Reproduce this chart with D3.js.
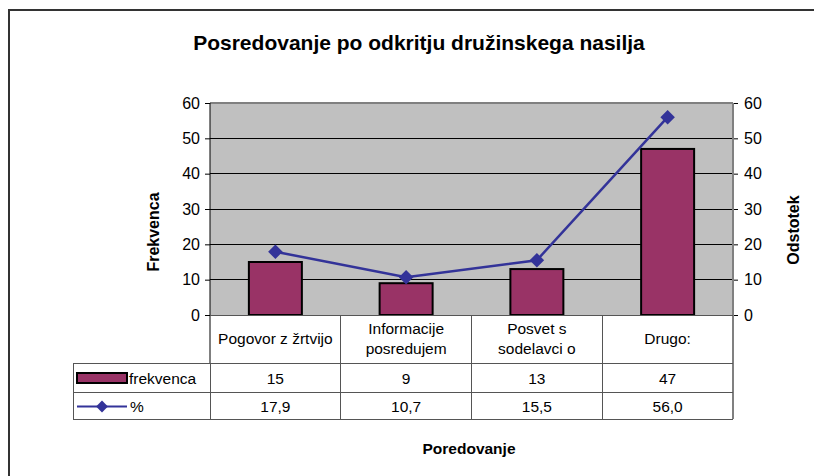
<!DOCTYPE html>
<html>
<head>
<meta charset="utf-8">
<script src="https://cdn.jsdelivr.net/npm/d3@7"></script>
<style>
  html, body { margin: 0; padding: 0; background: #fff; }
  svg { display: block; font-family: "Liberation Sans", Arial, sans-serif; }
</style>
</head>
<body>
<div id="chart"></div>
<script>
// Chart data
var categories = [['Pogovor z žrtvijo'], ['Informacije', 'posredujem'], ['Posvet s', 'sodelavci o'], ['Drugo:']];
var frekvenca = [15, 9, 13, 47];
var odstotek = [17.9, 10.7, 15.5, 56.0];
var leftTicks = [0, 10, 20, 30, 40, 50, 60];
var rightTicks = [0, 10, 20, 30, 40, 50, 60];

var width = 814, height = 476;
var plot = { left: 210, right: 733, top: 103, bottom: 315 };
var rowLabelBottom = 363, rowFreqBottom = 392, rowPctBottom = 419, tableLeft = 73;
var barColor = '#993366', lineColor = '#333399';
var txt = '15.5px';

var svg = d3.select('#chart').append('svg')
    .attr('width', width)
    .attr('height', height);

// Outer frame (runs off the bottom/right edge)
svg.append('rect')
    .attr('x', 9).attr('y', 10)
    .attr('width', 840).attr('height', 500)
    .attr('fill', 'none')
    .attr('stroke', '#333')
    .attr('stroke-width', 2);

// Title
svg.append('text')
    .attr('x', 419).attr('y', 50)
    .attr('text-anchor', 'middle')
    .attr('font-size', '21px')
    .attr('font-weight', 'bold')
    .text('Posredovanje po odkritju družinskega nasilja');

var x = d3.scaleBand()
    .domain(d3.range(categories.length))
    .range([plot.left, plot.right])
    .paddingInner(0)
    .paddingOuter(0);

var yL = d3.scaleLinear().domain([0, 60]).range([plot.bottom, plot.top]);
var yR = d3.scaleLinear().domain([0, 60]).range([plot.bottom, plot.top]);

// Plot background
svg.append('rect')
    .attr('x', plot.left).attr('y', plot.top)
    .attr('width', plot.right - plot.left).attr('height', plot.bottom - plot.top)
    .attr('fill', '#c0c0c0');

// Gridlines
svg.append('g').selectAll('line')
    .data(leftTicks.filter(function (d) { return d > 0 && d < 60; }))
    .join('line')
    .attr('x1', plot.left).attr('x2', plot.right)
    .attr('y1', function (d) { return yL(d); })
    .attr('y2', function (d) { return yL(d); })
    .attr('stroke', '#000')
    .attr('stroke-width', 1)
    .attr('shape-rendering', 'crispEdges');

// Plot border top (gray)
svg.append('line')
    .attr('x1', plot.left).attr('x2', plot.right)
    .attr('y1', plot.top).attr('y2', plot.top)
    .attr('stroke', '#808080').attr('stroke-width', 2);

// Bars
var barW = 53;
svg.append('g').selectAll('rect')
    .data(frekvenca)
    .join('rect')
    .attr('x', function (d, i) { return x(i) + x.bandwidth() / 2 - barW / 2; })
    .attr('y', function (d) { return yL(d); })
    .attr('width', barW)
    .attr('height', function (d) { return yL(0) - yL(d); })
    .attr('fill', barColor)
    .attr('stroke', '#000')
    .attr('stroke-width', 2);

// Left axis
var axL = svg.append('g')
    .attr('transform', 'translate(' + plot.left + ',0)')
    .call(d3.axisLeft(yL).tickValues(leftTicks).tickSize(5).tickPadding(5));
axL.select('.domain').remove();
axL.selectAll('.tick line').attr('stroke', '#000');
axL.selectAll('text').attr('font-size', '16px').attr('fill', '#000')
    .attr('font-family', '"Liberation Sans", Arial, sans-serif');
svg.append('line')
    .attr('x1', plot.left).attr('x2', plot.left)
    .attr('y1', plot.top).attr('y2', rowLabelBottom)
    .attr('stroke', '#000').attr('stroke-width', 1);

// Right axis
var axR = svg.append('g')
    .attr('transform', 'translate(' + plot.right + ',0)')
    .call(d3.axisRight(yR).tickValues(rightTicks).tickSize(5).tickPadding(6));
axR.select('.domain').remove();
axR.selectAll('.tick line').attr('stroke', '#000');
axR.selectAll('text').attr('font-size', '16px').attr('fill', '#000')
    .attr('font-family', '"Liberation Sans", Arial, sans-serif');
svg.append('line')
    .attr('x1', plot.right).attr('x2', plot.right)
    .attr('y1', plot.top).attr('y2', rowPctBottom)
    .attr('stroke', '#808080').attr('stroke-width', 2);

// Line series
var line = d3.line()
    .x(function (d, i) { return x(i) + x.bandwidth() / 2; })
    .y(function (d) { return yR(d); });
svg.append('path')
    .datum(odstotek)
    .attr('d', line)
    .attr('fill', 'none')
    .attr('stroke', lineColor)
    .attr('stroke-width', 2.5);

svg.append('g').selectAll('path')
    .data(odstotek)
    .join('path')
    .attr('transform', function (d, i) {
        return 'translate(' + (x(i) + x.bandwidth() / 2) + ',' + yR(d) + ') rotate(45)';
    })
    .attr('d', d3.symbol().type(d3.symbolSquare).size(105))
    .attr('fill', lineColor);

// Data table
var tbl = svg.append('g').attr('stroke', '#555').attr('stroke-width', 1)
    .attr('shape-rendering', 'crispEdges');
tbl.append('line').attr('x1', plot.left).attr('x2', plot.right).attr('y1', plot.bottom).attr('y2', plot.bottom);
[rowLabelBottom, rowFreqBottom, rowPctBottom].forEach(function (yy) {
    tbl.append('line').attr('x1', tableLeft).attr('x2', plot.right).attr('y1', yy).attr('y2', yy);
});
tbl.append('line').attr('x1', tableLeft).attr('x2', tableLeft).attr('y1', rowLabelBottom).attr('y2', rowPctBottom);
d3.range(1, categories.length).forEach(function (i) {
    tbl.append('line').attr('x1', x(i)).attr('x2', x(i)).attr('y1', plot.bottom).attr('y2', rowPctBottom);
});
tbl.append('line').attr('x1', plot.left).attr('x2', plot.left).attr('y1', rowLabelBottom).attr('y2', rowPctBottom);

// category labels
var catG = svg.append('g');
categories.forEach(function (lines, i) {
    var cx = x(i) + x.bandwidth() / 2;
    var midY = (plot.bottom + rowLabelBottom) / 2;
    lines.forEach(function (t, j) {
        catG.append('text')
            .attr('x', cx)
            .attr('y', midY + 5 + (j - (lines.length - 1) / 2) * 20)
            .attr('text-anchor', 'middle')
            .attr('font-size', txt)
            .text(t);
    });
});

// values rows
var fmt = function (v) { return v.toFixed(1).replace('.', ','); };
frekvenca.forEach(function (v, i) {
    svg.append('text')
        .attr('x', x(i) + x.bandwidth() / 2)
        .attr('y', (rowLabelBottom + rowFreqBottom) / 2 + 6)
        .attr('text-anchor', 'middle').attr('font-size', txt)
        .text(v);
});
odstotek.forEach(function (v, i) {
    svg.append('text')
        .attr('x', x(i) + x.bandwidth() / 2)
        .attr('y', (rowFreqBottom + rowPctBottom) / 2 + 6)
        .attr('text-anchor', 'middle').attr('font-size', txt)
        .text(fmt(v));
});

// legend keys in table
svg.append('rect')
    .attr('x', 77).attr('y', 373).attr('width', 50).attr('height', 10)
    .attr('fill', barColor).attr('stroke', '#000').attr('stroke-width', 2);
svg.append('text').attr('x', 129).attr('y', (rowLabelBottom + rowFreqBottom) / 2 + 6)
    .attr('font-size', txt).text('frekvenca');
var ky = (rowFreqBottom + rowPctBottom) / 2 + 1;
svg.append('line').attr('x1', 77).attr('x2', 127).attr('y1', ky).attr('y2', ky)
    .attr('stroke', lineColor).attr('stroke-width', 2);
svg.append('path')
    .attr('transform', 'translate(102,' + ky + ') rotate(45)')
    .attr('d', d3.symbol().type(d3.symbolSquare).size(70))
    .attr('fill', lineColor);
svg.append('text').attr('x', 130).attr('y', (rowFreqBottom + rowPctBottom) / 2 + 6)
    .attr('font-size', txt).text('%');

// Axis titles
svg.append('text')
    .attr('transform', 'translate(159,232) rotate(-90)')
    .attr('text-anchor', 'middle')
    .attr('font-size', '16px').attr('font-weight', 'bold')
    .text('Frekvenca');
svg.append('text')
    .attr('transform', 'translate(799,230) rotate(-90)')
    .attr('text-anchor', 'middle')
    .attr('font-size', '16px').attr('font-weight', 'bold')
    .text('Odstotek');
svg.append('text')
    .attr('x', 469).attr('y', 454)
    .attr('text-anchor', 'middle')
    .attr('font-size', '15.5px').attr('font-weight', 'bold')
    .text('Poredovanje');
</script>
</body>
</html>
